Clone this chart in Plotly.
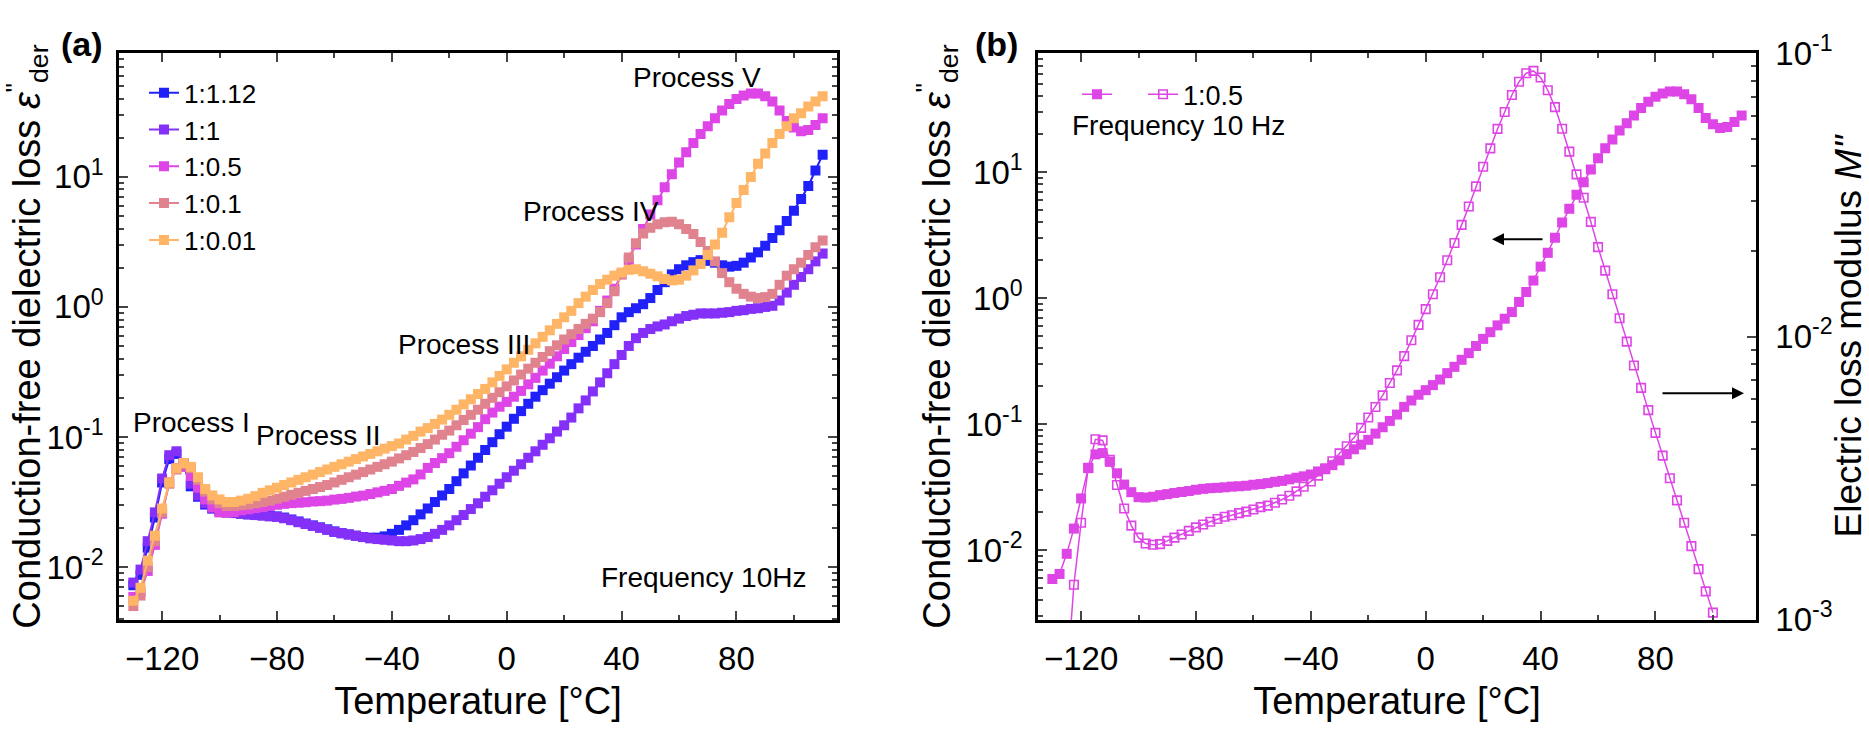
import plotly.graph_objects as go

# ---------------- data ----------------
temperature = [
    -130, -127.5, -125, -122.5, -120, -117.5, -115, -112.5, -110, -107.5,
    -105, -102.5, -100, -97.5, -95, -92.5, -90, -87.5, -85, -82.5,
    -80, -77.5, -75, -72.5, -70, -67.5, -65, -62.5, -60, -57.5,
    -55, -52.5, -50, -47.5, -45, -42.5, -40, -37.5, -35, -32.5,
    -30, -27.5, -25, -22.5, -20, -17.5, -15, -12.5, -10, -7.5,
    -5, -2.5, 0, 2.5, 5, 7.5, 10, 12.5, 15, 17.5,
    20, 22.5, 25, 27.5, 30, 32.5, 35, 37.5, 40, 42.5,
    45, 47.5, 50, 52.5, 55, 57.5, 60, 62.5, 65, 67.5,
    70, 72.5, 75, 77.5, 80, 82.5, 85, 87.5, 90, 92.5,
    95, 97.5, 100, 102.5, 105, 107.5, 110,
]

eps_1_1_12 = [
    0.00724, 0.00871, 0.0141, 0.0240, 0.0447, 0.0676, 0.0741, 0.0603, 0.0417, 0.0347,
    0.0302, 0.0282, 0.0269, 0.0263, 0.0260, 0.0257, 0.0254, 0.0251, 0.0251, 0.0248,
    0.0245, 0.0240, 0.0232, 0.0224, 0.0216, 0.0209, 0.0202, 0.0195, 0.0188, 0.0182,
    0.0178, 0.0174, 0.0170, 0.0168, 0.0168, 0.0172, 0.0180, 0.0193, 0.0209, 0.0229,
    0.0254, 0.0282, 0.0316, 0.0355, 0.0398, 0.0457, 0.0525, 0.0603, 0.0692, 0.0794,
    0.0912, 0.105, 0.120, 0.138, 0.158, 0.180, 0.204, 0.229, 0.257, 0.288,
    0.324, 0.363, 0.407, 0.452, 0.501, 0.562, 0.631, 0.724, 0.832, 0.912,
    0.977, 1.05, 1.17, 1.35, 1.55, 1.78, 1.95, 2.09, 2.21, 2.29,
    2.26, 2.19, 2.09, 2.04, 2.07, 2.19, 2.40, 2.63, 2.95, 3.39,
    3.89, 4.57, 5.50, 6.76, 8.51, 11.2, 14.8,
]

eps_1_1 = [
    0.00759, 0.00955, 0.0158, 0.0263, 0.0479, 0.0724, 0.0776, 0.0631, 0.0437, 0.0355,
    0.0309, 0.0282, 0.0269, 0.0263, 0.0260, 0.0257, 0.0254, 0.0251, 0.0248, 0.0245,
    0.0243, 0.0237, 0.0229, 0.0221, 0.0214, 0.0207, 0.0200, 0.0193, 0.0186, 0.0182,
    0.0178, 0.0174, 0.0170, 0.0166, 0.0164, 0.0162, 0.0160, 0.0158, 0.0158, 0.0160,
    0.0164, 0.0170, 0.0180, 0.0193, 0.0209, 0.0229, 0.0251, 0.0279, 0.0309, 0.0347,
    0.0389, 0.0437, 0.0490, 0.0550, 0.0617, 0.0692, 0.0776, 0.0871, 0.0977, 0.110,
    0.123, 0.141, 0.166, 0.191, 0.224, 0.263, 0.309, 0.363, 0.427, 0.501,
    0.575, 0.631, 0.676, 0.708, 0.733, 0.776, 0.813, 0.851, 0.871, 0.891,
    0.891, 0.891, 0.902, 0.912, 0.933, 0.944, 0.966, 0.977, 1.00, 1.02,
    1.12, 1.29, 1.48, 1.70, 1.95, 2.24, 2.57,
]

eps_1_0_5 = [
    0.00589, 0.00646, 0.00933, 0.0148, 0.0257, 0.0447, 0.0575, 0.0589, 0.0501, 0.0407,
    0.0331, 0.0288, 0.0263, 0.0261, 0.0265, 0.0273, 0.0278, 0.0284, 0.0289, 0.0294,
    0.0301, 0.0306, 0.0310, 0.0312, 0.0315, 0.0319, 0.0321, 0.0324, 0.0330, 0.0334,
    0.0340, 0.0348, 0.0354, 0.0364, 0.0375, 0.0385, 0.0398, 0.0421, 0.0446, 0.0472,
    0.0515, 0.0578, 0.0631, 0.0687, 0.0750, 0.0841, 0.0944, 0.106, 0.119, 0.137,
    0.154, 0.171, 0.186, 0.204, 0.226, 0.254, 0.285, 0.324, 0.366, 0.417,
    0.475, 0.537, 0.608, 0.687, 0.776, 0.933, 1.12, 1.38, 1.78, 2.29,
    3.02, 3.98, 5.13, 6.61, 8.32, 10.5, 12.9, 15.5, 18.2, 21.4,
    24.5, 28.2, 32.4, 36.3, 39.8, 42.2, 43.7, 43.7, 41.7, 38.0,
    32.4, 26.9, 24.0, 22.4, 22.9, 25.1, 28.2,
]

eps_1_0_1 = [
    0.00501, 0.00603, 0.0100, 0.0158, 0.0263, 0.0437, 0.0562, 0.0617, 0.0575, 0.0468,
    0.0380, 0.0331, 0.0309, 0.0295, 0.0295, 0.0299, 0.0302, 0.0309, 0.0316, 0.0324,
    0.0335, 0.0347, 0.0359, 0.0372, 0.0385, 0.0398, 0.0412, 0.0427, 0.0447, 0.0468,
    0.0490, 0.0513, 0.0537, 0.0562, 0.0589, 0.0617, 0.0646, 0.0684, 0.0724, 0.0767,
    0.0822, 0.0881, 0.0955, 0.104, 0.112, 0.123, 0.135, 0.148, 0.162, 0.180,
    0.200, 0.221, 0.245, 0.272, 0.302, 0.335, 0.372, 0.412, 0.457, 0.507,
    0.562, 0.617, 0.676, 0.741, 0.813, 0.912, 1.07, 1.32, 1.78, 2.40,
    3.09, 3.67, 4.07, 4.32, 4.47, 4.52, 4.32, 3.98, 3.63, 3.16,
    2.69, 2.24, 1.82, 1.55, 1.38, 1.26, 1.20, 1.17, 1.19, 1.26,
    1.48, 1.74, 1.95, 2.19, 2.51, 2.88, 3.24,
]

eps_1_0_01 = [
    0.00550, 0.00692, 0.0112, 0.0174, 0.0282, 0.0447, 0.0575, 0.0631, 0.0589, 0.0490,
    0.0398, 0.0355, 0.0331, 0.0316, 0.0316, 0.0324, 0.0335, 0.0351, 0.0372, 0.0389,
    0.0407, 0.0427, 0.0447, 0.0468, 0.0490, 0.0513, 0.0537, 0.0562, 0.0589, 0.0617,
    0.0646, 0.0676, 0.0708, 0.0741, 0.0776, 0.0813, 0.0851, 0.0891, 0.0955, 0.102,
    0.110, 0.117, 0.126, 0.136, 0.148, 0.162, 0.178, 0.195, 0.214, 0.234,
    0.263, 0.295, 0.331, 0.372, 0.417, 0.468, 0.525, 0.589, 0.661, 0.741,
    0.832, 0.933, 1.07, 1.20, 1.35, 1.50, 1.62, 1.74, 1.84, 1.93,
    1.95, 1.88, 1.80, 1.72, 1.64, 1.60, 1.62, 1.74, 1.91, 2.14,
    2.51, 3.02, 3.72, 4.90, 6.31, 7.94, 10.0, 12.6, 15.1, 18.2,
    21.4, 24.5, 28.2, 30.9, 34.7, 38.0, 41.7,
]

# electric loss modulus M'' of the 1:0.5 sample (panel b, right axis)
modulus_1_0_5 = [
    None, None, 0.0006, 0.00133, 0.0022, 0.00344, 0.00434, 0.0043, 0.00367, 0.00299,
    0.00247, 0.00215, 0.00195, 0.00186, 0.00184, 0.00185, 0.0019, 0.00195, 0.0020, 0.00206,
    0.00212, 0.00217, 0.00222, 0.00227, 0.00231, 0.00234, 0.00238, 0.00241, 0.00245, 0.0025,
    0.00253, 0.00259, 0.00266, 0.00274, 0.00284, 0.00295, 0.00308, 0.00323, 0.0034, 0.00363,
    0.00387, 0.0041, 0.00439, 0.00476, 0.00518, 0.00564, 0.0062, 0.00686, 0.0076, 0.00853,
    0.0097, 0.011, 0.0125, 0.0141, 0.0162, 0.0186, 0.0214, 0.0248, 0.0288, 0.0339,
    0.0398, 0.0462, 0.0541, 0.0621, 0.0713, 0.0794, 0.0851, 0.0867, 0.0822, 0.0741,
    0.0646, 0.0542, 0.045, 0.0374, 0.0309, 0.0254, 0.0207, 0.0171, 0.0141, 0.0116,
    0.0096, 0.0079, 0.00659, 0.0055, 0.00457, 0.0038, 0.00316, 0.00264, 0.0022, 0.00182,
    0.00151, 0.00126, 0.00106, None, None, None, None,
]

series_names = ["1:1.12", "1:1", "1:0.5", "1:0.1", "1:0.01"]
series_values = [eps_1_1_12, eps_1_1, eps_1_0_5, eps_1_0_1, eps_1_0_01]
series_colors = ["#2020F8", "#8430F8", "#DE45E6", "#E0838E", "#FFB566"]

x_tickvals = [-120, -80, -40, 0, 40, 80]
x_minor = [-100, -60, -20, 20, 60, 100]
eps_tickvals = [0.01, 0.1, 1, 10]
eps_ticktext = ["10<sup>-2</sup>", "10<sup>-1</sup>", "10<sup>0</sup>", "10<sup>1</sup>"]
mod_tickvals = [0.001, 0.01, 0.1]
mod_ticktext = ["10<sup>-3</sup>", "10<sup>-2</sup>", "10<sup>-1</sup>"]

for arr in series_values + [modulus_1_0_5]:
    assert len(arr) == len(temperature), len(arr)

minor_log = [m * 10 ** k for k in range(-4, 3) for m in range(2, 10)]

W, H = 1869, 739
FONT = "Liberation Sans, Arial, sans-serif"

fig = go.Figure()

for name, vals, col in zip(series_names, series_values, series_colors):
    fig.add_trace(go.Scatter(
        x=temperature, y=vals, name=name, mode="lines+markers",
        line=dict(color=col, width=2),
        marker=dict(symbol="square", size=10, color=col, line=dict(width=0)),
        xaxis="x", yaxis="y", legend="legend",
    ))

fig.add_trace(go.Scatter(
    x=temperature, y=eps_1_0_5, name="\u2002 ", mode="lines+markers",
    line=dict(color="#DE45E6", width=1.5),
    marker=dict(symbol="square", size=10, color="#DE45E6", line=dict(width=0)),
    xaxis="x2", yaxis="y2", legend="legend2",
))
fig.add_trace(go.Scatter(
    x=temperature, y=modulus_1_0_5, name="1:0.5", mode="lines+markers",
    line=dict(color="#DE45E6", width=1.5),
    marker=dict(symbol="square-open", size=8.5, color="#DE45E6", line=dict(width=1.6)),
    xaxis="x2", yaxis="y3", legend="legend2",
))

def px_x(p):
    return p / W

def px_y(p):
    return 1 - p / H

xa = dict(
    range=[-135, 115], tickvals=x_tickvals, ticks="inside", ticklen=9, tickwidth=2,
    minor=dict(tickvals=x_minor, ticks="inside", ticklen=5, tickwidth=1.5),
    showline=True, linewidth=2.5, linecolor="black", mirror="ticks",
    showgrid=False, zeroline=False,
    tickfont=dict(family=FONT, size=33, color="black"),
    title=dict(text="Temperature [°C]", font=dict(family=FONT, size=38, color="black"), standoff=12),
    ticklabelstandoff=8,
)

def yaxis_style(standoff):
    return dict(
        type="log", ticks="inside", ticklen=9, tickwidth=2,
        minor=dict(tickvals=minor_log, ticks="inside", ticklen=5, tickwidth=1.5),
        showline=True, linewidth=2.5, linecolor="black",
        showgrid=False, zeroline=False,
        tickfont=dict(family=FONT, size=33, color="black"),
        ticklabelstandoff=standoff,
    )

eps_title = 'Conduction-free dielectric loss <i>ε</i><sup>"</sup><sub>der</sub>'

fig.update_layout(
    width=W, height=H, autosize=False,
    margin=dict(l=0, r=0, t=0, b=0),
    paper_bgcolor="white", plot_bgcolor="white",
    font=dict(family=FONT, color="black"),
    xaxis=dict(domain=[px_x(119), px_x(837)], anchor="y", **xa),
    yaxis=dict(domain=[px_y(632), px_y(32)], anchor="x", range=[-2.407, 1.951],
               tickvals=eps_tickvals, ticktext=eps_ticktext, mirror="ticks",
               title=dict(text=eps_title, font=dict(family=FONT, size=38, color="black"), standoff=4),
               **yaxis_style(6)),
    xaxis2=dict(domain=[px_x(1038), px_x(1756)], anchor="y2", **xa),
    yaxis2=dict(domain=[px_y(632), px_y(32)], anchor="x2", range=[-2.555, 1.945],
                tickvals=eps_tickvals, ticktext=eps_ticktext, mirror=False,
                title=dict(text=eps_title, font=dict(family=FONT, size=38, color="black"), standoff=4),
                **yaxis_style(6)),
    yaxis3=dict(overlaying="y2", side="right", anchor="x2", range=[-3.0005, -0.9995],
                tickvals=mod_tickvals, ticktext=mod_ticktext,
                title=dict(text='Electric loss modulus <i>M"</i>',
                           font=dict(family=FONT, size=37, color="black"), standoff=8),
                **yaxis_style(10)),
    legend=dict(x=px_x(144), y=px_y(49), xanchor="left", yanchor="top",
                font=dict(family=FONT, size=26, color="black"),
                bgcolor="rgba(0,0,0,0)", tracegroupgap=0),
    legend2=dict(x=px_x(1077), y=px_y(50), xanchor="left", yanchor="top", orientation="h",
                 font=dict(family=FONT, size=27, color="black"),
                 bgcolor="rgba(0,0,0,0)"),
    showlegend=True,
)

ann_font = dict(family=FONT, size=28, color="black")
notes = [
    ("Process I", 191, 423), ("Process II", 318, 437), ("Process III", 464, 340),
    ("Process IV", 591, 200), ("Process V", 697, 58), ("Frequency 10Hz", 703, 587),
    ("Frequency 10 Hz", 1178, 108),
]
for txt, x, y in notes:
    fig.add_annotation(text=txt, x=px_x(x), y=px_y(y), xref="paper", yref="paper",
                       showarrow=False, font=ann_font, xanchor="center", yanchor="middle")

for txt, x in [("<b>(a)</b>", 82), ("<b>(b)</b>", 997)]:
    fig.add_annotation(text=txt, x=px_x(x), y=px_y(22), xref="paper", yref="paper",
                       showarrow=False, font=dict(family=FONT, size=34, color="black"),
                       xanchor="center", yanchor="middle")

# arrows pointing to the axis each curve belongs to
fig.add_annotation(x=px_x(1492), y=px_y(229), xref="paper", yref="paper", text="",
                   showarrow=True, ax=52, ay=0, arrowhead=2, arrowsize=1.2, arrowwidth=2,
                   arrowcolor="black")
fig.add_annotation(x=px_x(1744), y=px_y(392), xref="paper", yref="paper", text="",
                   showarrow=True, ax=-83, ay=0, arrowhead=2, arrowsize=1.2, arrowwidth=2,
                   arrowcolor="black")

fig.write_html("out.html", config={"displayModeBar": False},
               post_script="document.body.style.margin='0px';")
